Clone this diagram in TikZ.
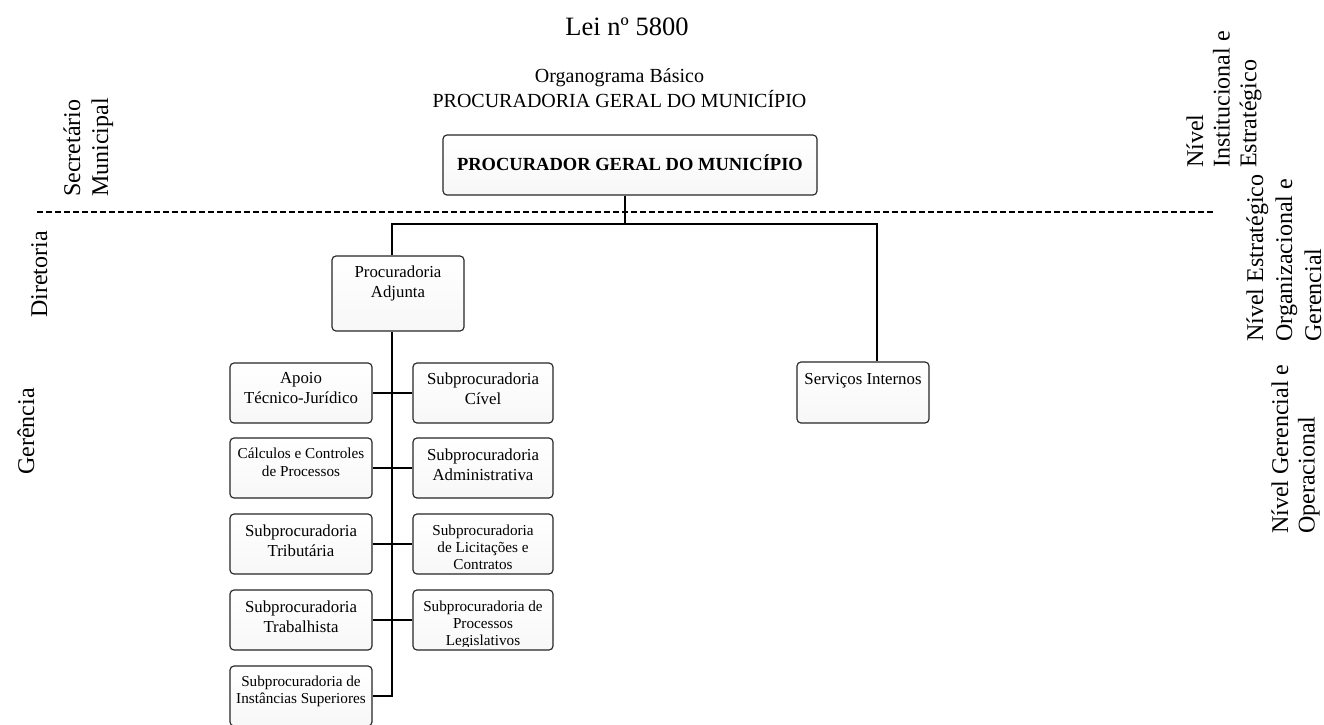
\documentclass[tikz,border=0pt]{standalone}
\usepackage{fontspec}
\setmainfont{Liberation Serif}
\usetikzlibrary{calc}

% font sizes used in the chart
\newcommand\boxfont{\fontsize{16.8}{20}\selectfont}
\newcommand\smallboxfont{\fontsize{15.2}{17}\selectfont}
\newcommand\sidefont{\fontsize{24}{28}\selectfont}
% text block of a box: width, height, first baseline from top, font, lines
\newcommand\boxtext[5]{\parbox[c][#2pt][t]{#1pt}{#4\centering\rule{0pt}{#3pt}#5}}
% stacked lines whose baseline is the first line
\newcommand\leftlines[1]{\begin{tabular}[t]{@{}l@{}}#1\end{tabular}}
\newcommand\centerlines[1]{\begin{tabular}[t]{@{}c@{}}#1\end{tabular}}

\begin{document}
\begin{tikzpicture}[x=1pt,y=-1pt,
  orgbox/.style={draw=black!85, line width=1.15pt, rounded corners=4pt,
    inner sep=0pt, top color=white, bottom color=black!3},
  link/.style={draw=black, line width=1.2pt},
  levelsep/.style={draw=black, line width=1.1pt, dash pattern=on 6pt off 3pt},
  side/.style={rotate=90, inner sep=0pt, font=\sidefont},
]
\useasboundingbox (0,0) rectangle (1324,724);
\fill[white] (0,0) rectangle (1324,724);
\clip (0,0) rectangle (1324,724);

% headings
\node[anchor=base, inner sep=0pt, font=\fontsize{26.5}{30}\selectfont] (law) at (627,35) {Lei nº 5800};
\node[anchor=base, inner sep=0pt, font=\fontsize{20}{24}\selectfont] (caption) at (619.5,82.7)
  {\centerlines{Organograma Básico\\PROCURADORIA GERAL DO MUNICÍPIO}};

% level separator
\coordinate (sepL) at (37,212);
\coordinate (sepR) at (1213,212);
\draw[levelsep] (sepL) -- (sepR);

% level labels, left side
\node[side, anchor=base west] (secr) at (80,197) {\leftlines{Secretário\\Municipal}};
\node[side, anchor=base] (dirt) at (47,274.5) {Diretoria};
\node[side, anchor=base] (gere) at (34,431.5) {Gerência};

% level labels, right side
\node[side, anchor=base west, font=\fontsize{24}{26.7}\selectfont] (nivA) at (1203,168)
  {\leftlines{Nível\\Institucional e\\Estratégico}};
\node[side, anchor=base west, font=\fontsize{24}{29}\selectfont] (nivB) at (1263,342)
  {\leftlines{Nível Estratégico\\Organizacional e\\Gerencial}};
\node[side, anchor=base west, font=\fontsize{24}{26.5}\selectfont] (nivC) at (1288,534)
  {\leftlines{Nível Gerencial e\\Operacional}};

% boxes
\node[orgbox] (pgm) at (630,165)
  {\boxtext{374}{60}{35}{\fontsize{18.5}{22}\selectfont\bfseries}{PROCURADOR GERAL DO MUNICÍPIO}};
\node[orgbox] (pa) at (398,293.5) {\boxtext{132}{75}{21}{\boxfont}{Procuradoria\\Adjunta}};
\node[orgbox] (serv) at (863,392.5) {\boxtext{132}{61}{22}{\boxfont}{Serviços Internos}};

\node[orgbox] (apoio) at (301,393) {\boxtext{142}{60}{20.5}{\boxfont}{Apoio\\Técnico-Jurídico}};
\node[orgbox] (civel) at (483,393) {\boxtext{140}{60}{21}{\boxfont}{Subprocuradoria\\Cível}};
\node[orgbox] (calc) at (301,468) {\boxtext{142}{60}{20}{\fontsize{15.2}{18}\selectfont}{Cálculos e Controles\\de Processos}};
\node[orgbox] (adm) at (483,468) {\boxtext{140}{60}{22}{\boxfont}{Subprocuradoria\\Administrativa}};
\node[orgbox] (trib) at (301,544) {\boxtext{142}{60}{22}{\boxfont}{Subprocuradoria\\Tributária}};
\node[orgbox] (licit) at (483,544) {\boxtext{140}{60}{21}{\smallboxfont}{Subprocuradoria\\de Licitações e\\Contratos}};
\node[orgbox] (trab) at (301,620) {\boxtext{142}{60}{22}{\boxfont}{Subprocuradoria\\Trabalhista}};
\node[orgbox] (legis) at (483,620) {\boxtext{140}{60}{21}{\smallboxfont}{}};
\begin{scope}
  \clip (legis.north west) rectangle ([yshift=4pt]legis.south east);
  \node[inner sep=0pt] (legis-text) at (legis.center)
    {\boxtext{140}{60}{21}{\smallboxfont}{Subprocuradoria de\\Processos\\Legislativos}};
\end{scope}
\node[orgbox] (inst) at (301,696) {\boxtext{142}{60}{20.7}{\smallboxfont}{Subprocuradoria de\\Instâncias Superiores}};

% connectors
\coordinate (tee) at (625,224);
\coordinate (busL) at (392,224);
\coordinate (busR) at (877,224);
\draw[link] (tee |- pgm.south) -- (tee);
\draw[link] (busL |- pa.north) -- (busL) -- (busR) -- (busR |- serv.north);
\draw[link] (busL |- pa.south) -- (busL |- inst.east) -- (inst.east);
\draw[link] (apoio.east) -- (civel.west);
\draw[link] (calc.east) -- (adm.west);
\draw[link] (trib.east) -- (licit.west);
\draw[link] (trab.east) -- (legis.west);
\end{tikzpicture}
\end{document}
